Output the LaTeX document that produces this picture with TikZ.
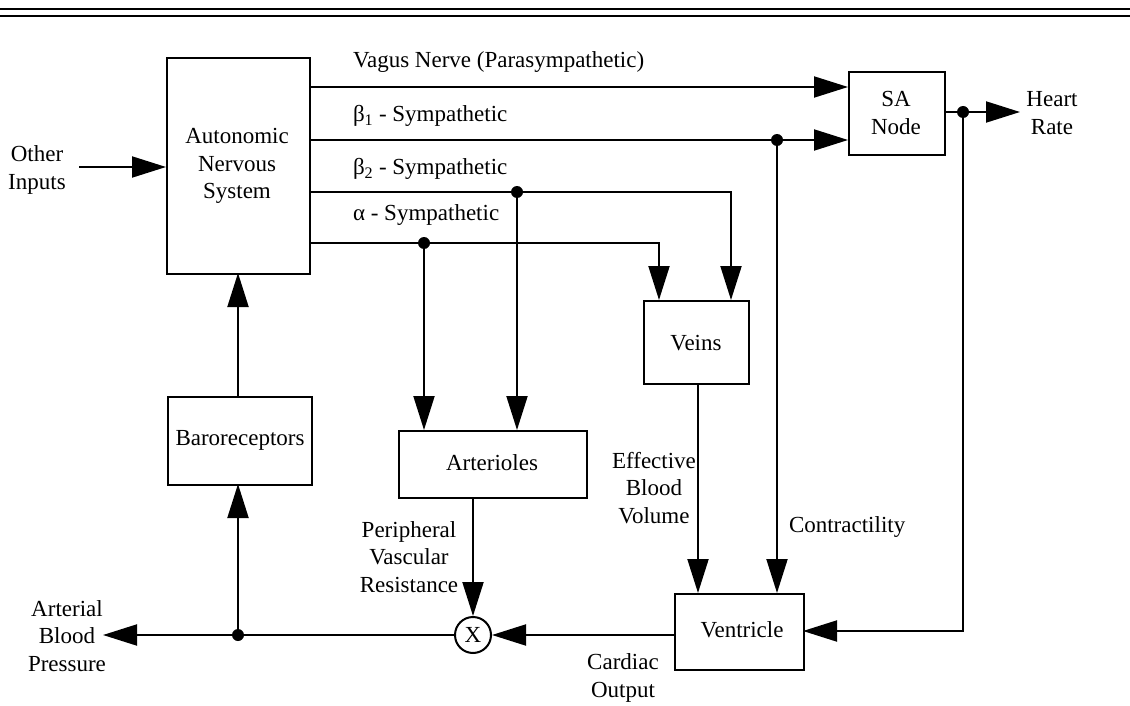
\documentclass[tikz,border=0pt]{standalone}
\usepackage{fontspec}
\setmainfont{Liberation Serif}
\usetikzlibrary{arrows.meta}
\begin{document}
\begin{tikzpicture}[x=1pt,y=-1pt,
  font=\fontsize{23}{27.5}\selectfont,
  line width=2pt,
  blk/.style={draw,line width=2pt,inner sep=0pt,anchor=north west},
  lbl/.style={inner sep=0pt,align=center},
  arr/.style={-{Triangle[length=34pt,width=21pt]}},
  dot/.style={circle,fill=black,inner sep=0pt,minimum size=12pt}]
\useasboundingbox (0,0) rectangle (1130,706);
\draw[line width=2.6pt] (0,9) -- (1130,9);
\draw[line width=2.4pt] (0,16) -- (1130,16);
% boxes
\node[blk,minimum width=143pt,minimum height=216pt] (ans) at (166,57) {};
\node[lbl] at (237,166) {Autonomic\\Nervous\\System};
\node[blk,minimum width=96pt,minimum height=83pt] (sa) at (848,71) {};
\node[lbl] at (896,113) {SA\\Node};
\node[blk,minimum width=105pt,minimum height=83pt] (veins) at (643,300) {};
\node[lbl] at (696,343) {Veins};
\node[blk,minimum width=188pt,minimum height=67pt] (art) at (398,430) {};
\node[lbl] at (492,463) {Arterioles};
\node[blk,minimum width=144pt,minimum height=88pt] (baro) at (167,396) {};
\node[lbl] at (240,440) {Baroreceptors};
\node[blk,minimum width=129pt,minimum height=76pt] (vent) at (674,593) {};
\node[lbl] at (742,630) {Ventricle};
\node[draw,circle,line width=2pt,minimum size=36pt,inner sep=0pt] (mult) at (473,635) {X};
% text labels
\node[lbl] (oi) at (37,170) {Other\\Inputs};
\node[lbl] (hr) at (1052,113) {Heart\\Rate};
\node[lbl] (abp) at (67,636) {Arterial\\Blood\\Pressure};
\node[lbl] (pvr) at (409,557) {Peripheral\\Vascular\\Resistance};
\node[lbl] (ebv) at (654,488) {Effective\\Blood\\Volume};
\node[lbl,anchor=west] (con) at (788,527) {Contractility};
\node[lbl] (co) at (623,678) {Cardiac\\Output};
\node[lbl,anchor=west] (lv) at (352,62) {Vagus Nerve (Parasympathetic)};
\node[lbl,anchor=west] (lb1) at (352,116) {β\textsubscript{1} - Sympathetic};
\node[lbl,anchor=west] (lb2) at (352,169) {β\textsubscript{2} - Sympathetic};
\node[lbl,anchor=west] (la) at (352,215) {α - Sympathetic};
% coordinates
\coordinate (oiR) at (79,167);
\coordinate (ansIn) at (166,167);
\coordinate (v0) at (309,87);
\coordinate (v1) at (848,87);
\coordinate (b10) at (309,140);
\coordinate (b11) at (848,140);
\coordinate (b20) at (309,192);
\coordinate (b2c) at (731,192);
\coordinate (b2e) at (731,300);
\coordinate (a0) at (309,243);
\coordinate (ac) at (659,243);
\coordinate (ae) at (659,300);
\node[dot] (d1) at (777,140) {};
\node[dot] (d2) at (517,192) {};
\node[dot] (d3) at (424,243) {};
\node[dot] (d4) at (963,112) {};
\node[dot] (d5) at (238,635) {};
\coordinate (saOut) at (944,112);
\coordinate (hrTip) at (1020,112);
\coordinate (fbc) at (963,631);
\coordinate (ventR) at (803,631);
\coordinate (ventL) at (674,635);
\coordinate (abpTip) at (103,635);
% connectors
\draw[arr] (oiR) -- (ansIn);
\draw[arr] (v0) -- (v1);
\draw[arr] (b10) -- (b11);
\draw[arr] (b20) -- (b2c) -- (b2e);
\draw[arr] (a0) -- (ac) -- (ae);
\draw[arr] (d2.center) -- (517,430);
\draw[arr] (d3.center) -- (424,430);
\draw[arr] (d1.center) -- (777,593);
\draw[arr] (698,383) -- (698,593);
\draw (saOut) -- (d4.center);
\draw[arr] (d4.center) -- (hrTip);
\draw[arr] (d4.center) -- (fbc) -- (ventR);
\draw[arr] (ventL) -- (mult.east);
\draw[arr] (473,497) -- (mult.north);
\draw[arr] (mult.west) -- (abpTip);
\draw[arr] (d5.center) -- (238,484);
\draw[arr] (238,396) -- (238,273);
\end{tikzpicture}
\end{document}
